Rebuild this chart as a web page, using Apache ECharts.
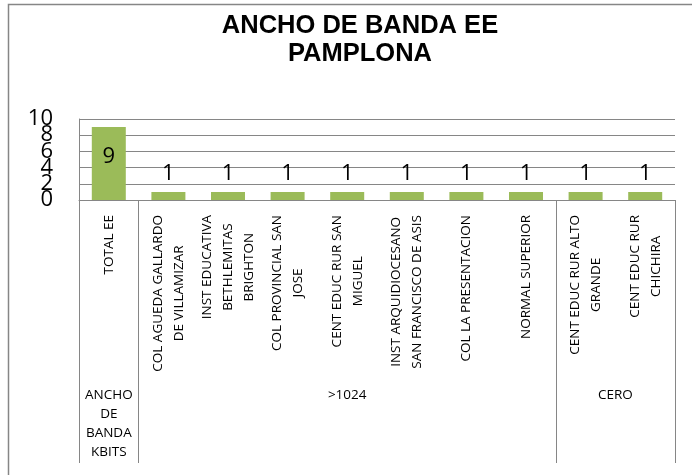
<!DOCTYPE html>
<html>
<head>
<meta charset="utf-8">
<script src="https://cdn.jsdelivr.net/npm/echarts@6/dist/echarts.min.js"></script>
<style>
  html, body { margin: 0; padding: 0; background: #fff; }
  #chart { width: 692px; height: 475px; }
</style>
</head>
<body>
<div id="chart"></div>
<script>
var categories = [
    'TOTAL EE',
    'COL AGUEDA GALLARDO\nDE VILLAMIZAR',
    'INST EDUCATIVA\nBETHLEMITAS\nBRIGHTON',
    'COL PROVINCIAL SAN\nJOSE',
    'CENT EDUC RUR SAN\nMIGUEL',
    'INST ARQUIDIOCESANO\nSAN FRANCISCO DE ASIS',
    'COL LA PRESENTACION',
    'NORMAL SUPERIOR',
    'CENT EDUC RUR ALTO\nGRANDE',
    'CENT EDUC RUR\nCHICHIRA'
]
var values = [9, 1, 1, 1, 1, 1, 1, 1, 1, 1]
// second level of the category axis
var groupNames = ['ANCHO\nDE\nBANDA\nKBITS', '>1024', 'CERO']
var groupSizes = [1, 7, 2]
var yTicks = [0, 2, 4, 6, 8, 10]

var gray = '#868686'
var font = 'Open Sans'

// group edges and centres in category units
var edges = [0]
var centers = []
for (var i = 0; i < groupSizes.length; i++)
{
    centers.push(edges[i] + groupSizes[i] / 2)
    edges.push(edges[i] + groupSizes[i])
}

// the tick labels overlap in the original; split them over two axes so none get hidden
var yLabelsA = yTicks.filter(function (t, i) { return i % 2 === 0 })
var yLabelsB = yTicks.filter(function (t, i) { return i % 2 === 1 })

var barData = values.map(function (v, i) {
    if (i === 0) {
        return { value: v, label: { position: 'inside', offset: [0, -7] } }
    }
    return v
})

function yAxisFor(labels, main)
{
    return {
        type: 'value',
        position: 'left',
        min: yTicks[0],
        max: yTicks[yTicks.length - 1],
        interval: 2,
        axisLine: { show: main, lineStyle: { color: gray } },
        axisTick: { show: false },
        splitLine: { show: main, lineStyle: { color: gray, width: 1 } },
        axisLabel: {
            customValues: labels,
            margin: 26,
            fontFamily: font,
            fontSize: 22,
            color: '#000'
        }
    }
}

var myChart = echarts.init(document.getElementById('chart'))
var option = {
    backgroundColor: '#fff',
    animation: false,
    graphic: [
        {
            type: 'rect',
            shape: { x: 8.5, y: 4.5, width: 800, height: 600 },
            style: { fill: 'none', stroke: gray, lineWidth: 1.5 },
            silent: true
        },
        {
            type: 'text',
            x: 360,
            y: 12,
            silent: true,
            style: {
                text: 'ANCHO DE BANDA EE\nPAMPLONA',
                align: 'center',
                verticalAlign: 'top',
                fontFamily: 'Liberation Sans',
                fontWeight: 'bold',
                fontSize: 25.5,
                lineHeight: 28,
                fill: '#000'
            }
        }
    ],
    grid: {
        left: 79,
        right: 17,
        top: 119,
        bottom: 275
    },
    yAxis: [yAxisFor(yLabelsA, true), yAxisFor(yLabelsB, false)],
    xAxis: [
        {
            type: 'category',
            data: categories,
            axisLine: { lineStyle: { color: gray } },
            axisTick: { show: false },
            axisLabel: {
                interval: 0,
                rotate: 90,
                margin: 15,
                color: '#000',
                formatter: function (v) {
                    return v.split('\n').map(function (l) { return '{c|' + l + '}' }).join('\n')
                },
                rich: {
                    c: { align: 'center', fontFamily: font, fontSize: 13.5, lineHeight: 21, color: '#000' }
                }
            }
        },
        {
            type: 'value',
            position: 'bottom',
            min: 0,
            max: categories.length,
            axisLine: { show: false },
            splitLine: { show: false },
            axisTick: {
                show: true,
                inside: false,
                length: 263,
                customValues: edges,
                lineStyle: { color: gray }
            },
            axisLabel: {
                customValues: centers,
                margin: 186,
                color: '#000',
                fontFamily: font,
                fontSize: 13.5,
                lineHeight: 19,
                align: 'center',
                formatter: function (v) {
                    var k = centers.indexOf(v)
                    return k >= 0 ? groupNames[k] : ''
                }
            }
        }
    ],
    series: [
        {
            type: 'bar',
            xAxisIndex: 0,
            yAxisIndex: 0,
            data: barData,
            barWidth: 34,
            itemStyle: { color: '#9BBB59' },
            label: {
                show: true,
                position: 'top',
                distance: 7,
                fontFamily: font,
                fontSize: 22,
                color: '#000'
            }
        }
    ]
}
myChart.setOption(option)
</script>
</body>
</html>
